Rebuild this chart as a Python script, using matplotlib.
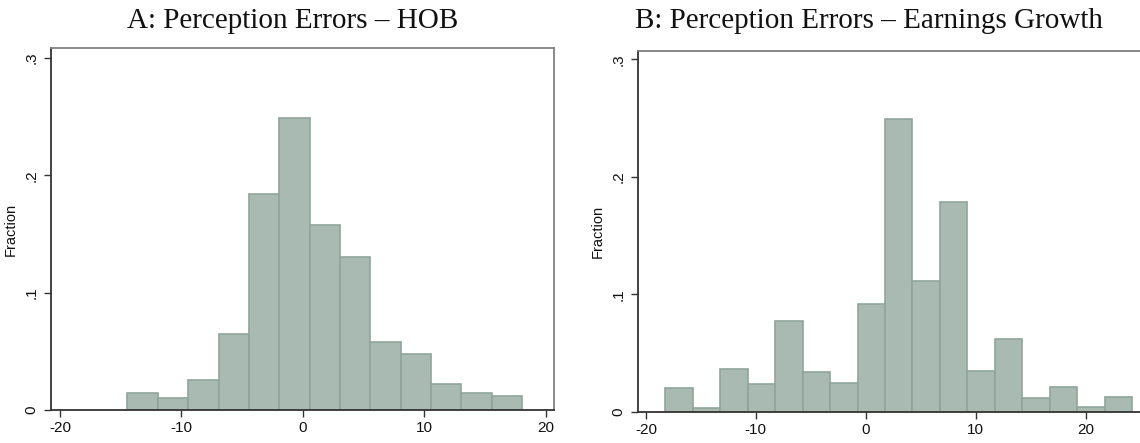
import numpy as np
import matplotlib
matplotlib.use('Agg')
import matplotlib.pyplot as plt

# Panel A: perception errors - HOB
hob_bin_start = -14.45
hob_bin_width = 2.5
hob_fraction = [0.0145, 0.0105, 0.0255, 0.065, 0.184, 0.249, 0.158,
                0.1305, 0.058, 0.0474, 0.0224, 0.0142, 0.0119]

# Panel B: perception errors - earnings growth
eg_bin_start = -18.25
eg_bin_width = 2.5
eg_fraction = [0.0201, 0.0033, 0.0363, 0.0235, 0.0768, 0.0335, 0.0244,
               0.0913, 0.2495, 0.1114, 0.1786, 0.0343, 0.0615, 0.0115,
               0.0214, 0.0038, 0.0124]

x_ticks = [-20, -10, 0, 10, 20]
y_ticks = [0, 0.1, 0.2, 0.3]
y_tick_labels = ['0', '.1', '.2', '.3']

titles = ['A: Perception Errors \u2013 HOB', 'B: Perception Errors \u2013 Earnings Growth']

FILL = '#a9bab3'
EDGE = '#8fa59b'

plt.rcParams['font.family'] = ['Liberation Sans', 'DejaVu Sans']

fig = plt.figure(figsize=(11.4, 4.43), dpi=100)
W, H = 1140.0, 443.0


def px_axes(left, top, right, bottom):
    return fig.add_axes([left / W, 1 - bottom / H, (right - left) / W, (bottom - top) / H])


def draw_hist(ax, start, width, fracs, xlim, ylim):
    edges = start + width * np.arange(len(fracs) + 1)
    ax.bar(edges[:-1], fracs, width=width, align='edge', color=FILL,
           edgecolor=EDGE, linewidth=1.2, zorder=2)
    ax.set_xlim(*xlim)
    ax.set_ylim(*ylim)
    ax.set_xticks(x_ticks)
    ax.set_xticklabels([str(t) for t in x_ticks])
    ax.set_yticks(y_ticks)
    ax.set_yticklabels(y_tick_labels, rotation=90, va='center')
    ax.tick_params(axis='both', direction='out', length=5, width=1.0,
                   color='#333333', labelsize=11, labelcolor='#111111')
    ax.tick_params(axis='x', pad=3)
    ax.tick_params(axis='y', pad=4)
    for side in ['left', 'bottom']:
        ax.spines[side].set_color('#333333')
        ax.spines[side].set_linewidth(1.3)
    for side in ['top', 'right']:
        ax.spines[side].set_color('#808080')
        ax.spines[side].set_linewidth(1.3)
    ax.set_ylabel('Fraction', fontsize=10.5, color='#111111')


# panel A
axA = px_axes(50.7, 48.3, 554.0, 410.0)
draw_hist(axA, hob_bin_start, hob_bin_width, hob_fraction,
          (-20.77, 20.68), (0, 0.3083))
axA.yaxis.set_label_coords((18 - 50.7) / (554.0 - 50.7), (410 - 229) / (410 - 48.3))

# panel B (right border runs past the image edge)
wB = 46.35 * 10.99
axB = px_axes(637.7, 50.7, 637.7 + wB, 411.7)
draw_hist(axB, eg_bin_start, eg_bin_width, eg_fraction,
          (-20.75, 25.6), (0, 0.3073))
axB.yaxis.set_label_coords((604.5 - 637.7) / wB, (411.7 - 231.7) / (411.7 - 50.7))

# panel titles
fig.text(293 / W, 1 - 28.5 / H, titles[0], ha='center', va='baseline',
         fontsize=21, family='Liberation Serif', color='#111111')
fig.text(868.7 / W, 1 - 28.5 / H, titles[1], ha='center', va='baseline',
         fontsize=21, family='Liberation Serif', color='#111111')

fig.savefig('out.png', dpi=100)
